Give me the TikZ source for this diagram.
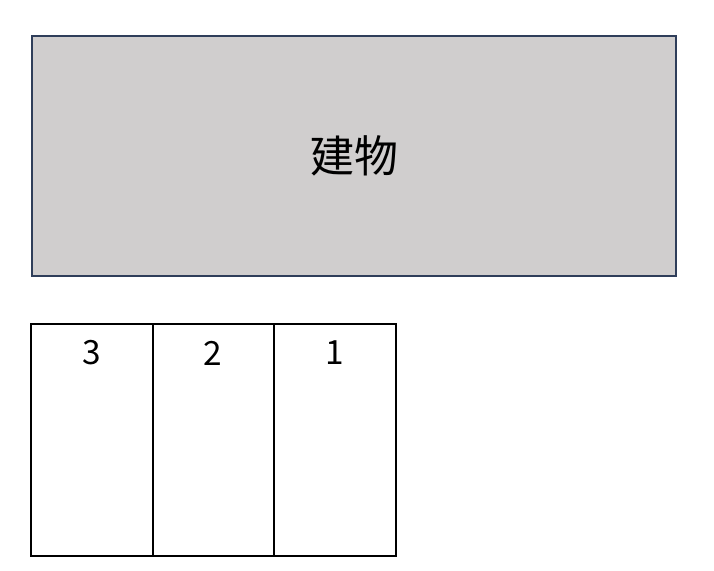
\documentclass[tikz,border=0pt]{standalone}
\usepackage{fontspec}
\setmainfont{Noto Sans CJK JP}
\usetikzlibrary{positioning}

\definecolor{bldgfill}{HTML}{D0CECE}
\definecolor{bldgline}{HTML}{2F3E5A}

\begin{document}
\begin{tikzpicture}[x=0.02cm,y=-0.02cm,
  building/.style={draw=bldgline,fill=bldgfill,line width=1.1pt,minimum width=12.88cm,minimum height=4.8cm,inner sep=0pt,font=\fontsize{25}{30}\selectfont},
  space/.style={draw=black,line width=1.1pt,minimum width=2.43cm,minimum height=4.64cm,inner sep=0pt,outer sep=0pt},
  num/.style={inner sep=0pt,font=\fontsize{19}{23}\selectfont}]
\useasboundingbox (0,0) rectangle (714,571);
\node[building] (bldg) at (354,156) {建物};

\node[space] (s3) at (92,440) {};
\node[space,right=0pt of s3] (s2) {};
\node[space,right=0pt of s2] (s1) {};

\node[num] (n3) at (92,353) {3};
\node[num] (n2) at (213,353) {2};
\node[num] (n1) at (335,353) {1};
\end{tikzpicture}
\end{document}
